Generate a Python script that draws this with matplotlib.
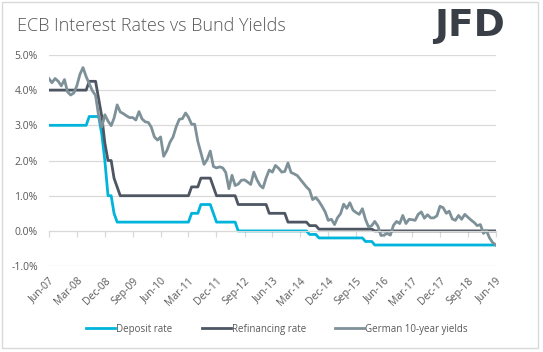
import pandas as pd
import matplotlib
matplotlib.use("Agg")
import matplotlib.pyplot as plt
from matplotlib.patches import Rectangle
from matplotlib.ticker import FuncFormatter

# ── Data (monthly, Jun-07 .. Jun-19) ───────────────────────────────────────
months = pd.date_range("2007-06-01", "2019-06-01", freq="MS")

deposit = [
    3.00, 3.00, 3.00, 3.00, 3.00, 3.00, 3.00,                                # 2007 Jun-Dec
    3.00, 3.00, 3.00, 3.00, 3.00, 3.00, 3.25, 3.25, 3.25, 3.25, 2.75, 2.00,  # 2008
    1.00, 1.00, 0.50, 0.25, 0.25, 0.25, 0.25, 0.25, 0.25, 0.25, 0.25, 0.25,  # 2009
    0.25, 0.25, 0.25, 0.25, 0.25, 0.25, 0.25, 0.25, 0.25, 0.25, 0.25, 0.25,  # 2010
    0.25, 0.25, 0.25, 0.50, 0.50, 0.50, 0.75, 0.75, 0.75, 0.75, 0.50, 0.25,  # 2011
    0.25, 0.25, 0.25, 0.25, 0.25, 0.25, 0.00, 0.00, 0.00, 0.00, 0.00, 0.00,  # 2012
    0.00, 0.00, 0.00, 0.00, 0.00, 0.00, 0.00, 0.00, 0.00, 0.00, 0.00, 0.00,  # 2013
    0.00, 0.00, 0.00, 0.00, 0.00, -0.10, -0.10, -0.10, -0.20, -0.20, -0.20, -0.20,  # 2014
    -0.20, -0.20, -0.20, -0.20, -0.20, -0.20, -0.20, -0.20, -0.20, -0.20, -0.20, -0.30,  # 2015
    -0.30, -0.30, -0.40, -0.40, -0.40, -0.40, -0.40, -0.40, -0.40, -0.40, -0.40, -0.40,  # 2016
    -0.40, -0.40, -0.40, -0.40, -0.40, -0.40, -0.40, -0.40, -0.40, -0.40, -0.40, -0.40,  # 2017
    -0.40, -0.40, -0.40, -0.40, -0.40, -0.40, -0.40, -0.40, -0.40, -0.40, -0.40, -0.40,  # 2018
    -0.40, -0.40, -0.40, -0.40, -0.40, -0.40,                                # 2019 Jan-Jun
]

refi = [
    4.00, 4.00, 4.00, 4.00, 4.00, 4.00, 4.00,                                # 2007 Jun-Dec
    4.00, 4.00, 4.00, 4.00, 4.00, 4.00, 4.25, 4.25, 4.25, 3.75, 3.25, 2.50,  # 2008
    2.00, 2.00, 1.50, 1.25, 1.00, 1.00, 1.00, 1.00, 1.00, 1.00, 1.00, 1.00,  # 2009
    1.00, 1.00, 1.00, 1.00, 1.00, 1.00, 1.00, 1.00, 1.00, 1.00, 1.00, 1.00,  # 2010
    1.00, 1.00, 1.00, 1.25, 1.25, 1.25, 1.50, 1.50, 1.50, 1.50, 1.25, 1.00,  # 2011
    1.00, 1.00, 1.00, 1.00, 1.00, 1.00, 0.75, 0.75, 0.75, 0.75, 0.75, 0.75,  # 2012
    0.75, 0.75, 0.75, 0.75, 0.50, 0.50, 0.50, 0.50, 0.50, 0.50, 0.25, 0.25,  # 2013
    0.25, 0.25, 0.25, 0.25, 0.25, 0.15, 0.15, 0.15, 0.05, 0.05, 0.05, 0.05,  # 2014
    0.05, 0.05, 0.05, 0.05, 0.05, 0.05, 0.05, 0.05, 0.05, 0.05, 0.05, 0.05,  # 2015
    0.05, 0.05, 0.00, 0.00, 0.00, 0.00, 0.00, 0.00, 0.00, 0.00, 0.00, 0.00,  # 2016
    0.00, 0.00, 0.00, 0.00, 0.00, 0.00, 0.00, 0.00, 0.00, 0.00, 0.00, 0.00,  # 2017
    0.00, 0.00, 0.00, 0.00, 0.00, 0.00, 0.00, 0.00, 0.00, 0.00, 0.00, 0.00,  # 2018
    0.00, 0.00, 0.00, 0.00, 0.00, 0.00,                                      # 2019 Jan-Jun
]

bund10y = [
    4.33, 4.21, 4.33, 4.25, 4.12, 4.30, 3.95,                                # 2007 Jun-Dec
    3.86, 3.92, 4.12, 4.45, 4.64, 4.38, 4.18, 3.98, 3.85, 3.27, 2.95, 3.30,  # 2008
    3.12, 2.99, 3.20, 3.58, 3.38, 3.33, 3.27, 3.22, 3.22, 3.15, 3.39, 3.18,  # 2009
    3.10, 3.08, 2.95, 2.67, 2.58, 2.67, 2.12, 2.28, 2.52, 2.67, 2.96, 3.17,  # 2010
    3.19, 3.35, 3.23, 3.03, 3.03, 2.54, 2.22, 1.89, 2.03, 2.27, 1.83, 1.79,  # 2011
    1.82, 1.79, 1.66, 1.20, 1.58, 1.29, 1.33, 1.44, 1.45, 1.39, 1.32, 1.67,  # 2012
    1.45, 1.29, 1.22, 1.51, 1.73, 1.67, 1.86, 1.78, 1.67, 1.69, 1.93, 1.66,  # 2013
    1.62, 1.57, 1.47, 1.36, 1.25, 1.16, 0.89, 0.95, 0.84, 0.70, 0.54, 0.30,  # 2014
    0.33, 0.18, 0.37, 0.49, 0.76, 0.64, 0.80, 0.59, 0.52, 0.47, 0.63, 0.33,  # 2015
    0.11, 0.15, 0.27, 0.14, -0.13, -0.12, -0.07, -0.12, 0.16, 0.27, 0.21, 0.44,  # 2016
    0.21, 0.33, 0.32, 0.30, 0.47, 0.54, 0.36, 0.46, 0.37, 0.37, 0.43, 0.70,  # 2017
    0.66, 0.50, 0.56, 0.34, 0.30, 0.44, 0.33, 0.47, 0.39, 0.31, 0.24, 0.15,  # 2018
    0.18, -0.07, 0.01, -0.20, -0.33, -0.40,                                  # 2019 Jan-Jun
]

# ── Style ──────────────────────────────────────────────────────────────────
C_DEPOSIT = "#00b4dc"
C_REFI    = "#4d5662"
C_BUND    = "#7e9199"
C_TEXT    = "#595959"
C_GRID    = "#d9d9d9"
plt.rcParams["font.family"] = ["Open Sans", "DejaVu Sans"]

fig = plt.figure(figsize=(5.43, 3.52), dpi=100)
fig.patches.append(Rectangle((0.004, 0.011), 0.987, 0.983, transform=fig.transFigure,
                             fill=False, edgecolor=C_GRID, linewidth=1.0))
ax = fig.add_axes([0.090, 0.244, 0.823, 0.600])

ax.plot(months, deposit, color=C_DEPOSIT, lw=2.0, label="Deposit rate")
ax.plot(months, refi,    color=C_REFI,    lw=2.0, label="Refinancing rate")
ax.plot(months, bund10y, color=C_BUND,    lw=2.0, label="German 10-year yields")

ax.set_xlim(months[0], months[-1])
ax.set_ylim(-1, 5)
ax.set_yticks(range(-1, 6))
ax.yaxis.set_major_formatter(FuncFormatter(lambda v, _: f"{v:.1f}%"))
ax.grid(axis="y", color=C_GRID, lw=0.9)
ax.set_axisbelow(True)

tick_dates = months[::9]
ax.set_xticks(tick_dates)
ax.set_xticklabels([d.strftime("%b-%y") for d in tick_dates])

for s in ("top", "right", "left"):
    ax.spines[s].set_visible(False)
ax.spines["bottom"].set_position(("data", 0))
ax.spines["bottom"].set_color(C_GRID)
ax.tick_params(axis="x", colors=C_GRID, length=4, width=0.9, pad=28,
               labelcolor=C_TEXT, labelsize=7.5, labelrotation=45)
plt.setp(ax.get_xticklabels(), ha="right", rotation_mode="anchor")
ax.tick_params(axis="y", length=0, pad=8, labelcolor=C_TEXT, labelsize=7.5)

fig.text(0.031, 0.925, "ECB Interest Rates vs Bund Yields", fontsize=13,
         color=C_TEXT, va="center", ha="left", fontweight="light")
fig.text(0.930, 0.925, "JFD", fontsize=27, color="#3a3f47", va="center",
         ha="right", fontweight="bold", family=["DejaVu Sans"])

fig.legend(loc="center", bbox_to_anchor=(0.51, 0.065), ncol=3, frameon=False,
           fontsize=7, handlelength=3.0, handletextpad=0.1, columnspacing=3.0,
           labelcolor=C_TEXT)

fig.savefig("out.png", dpi=100)
